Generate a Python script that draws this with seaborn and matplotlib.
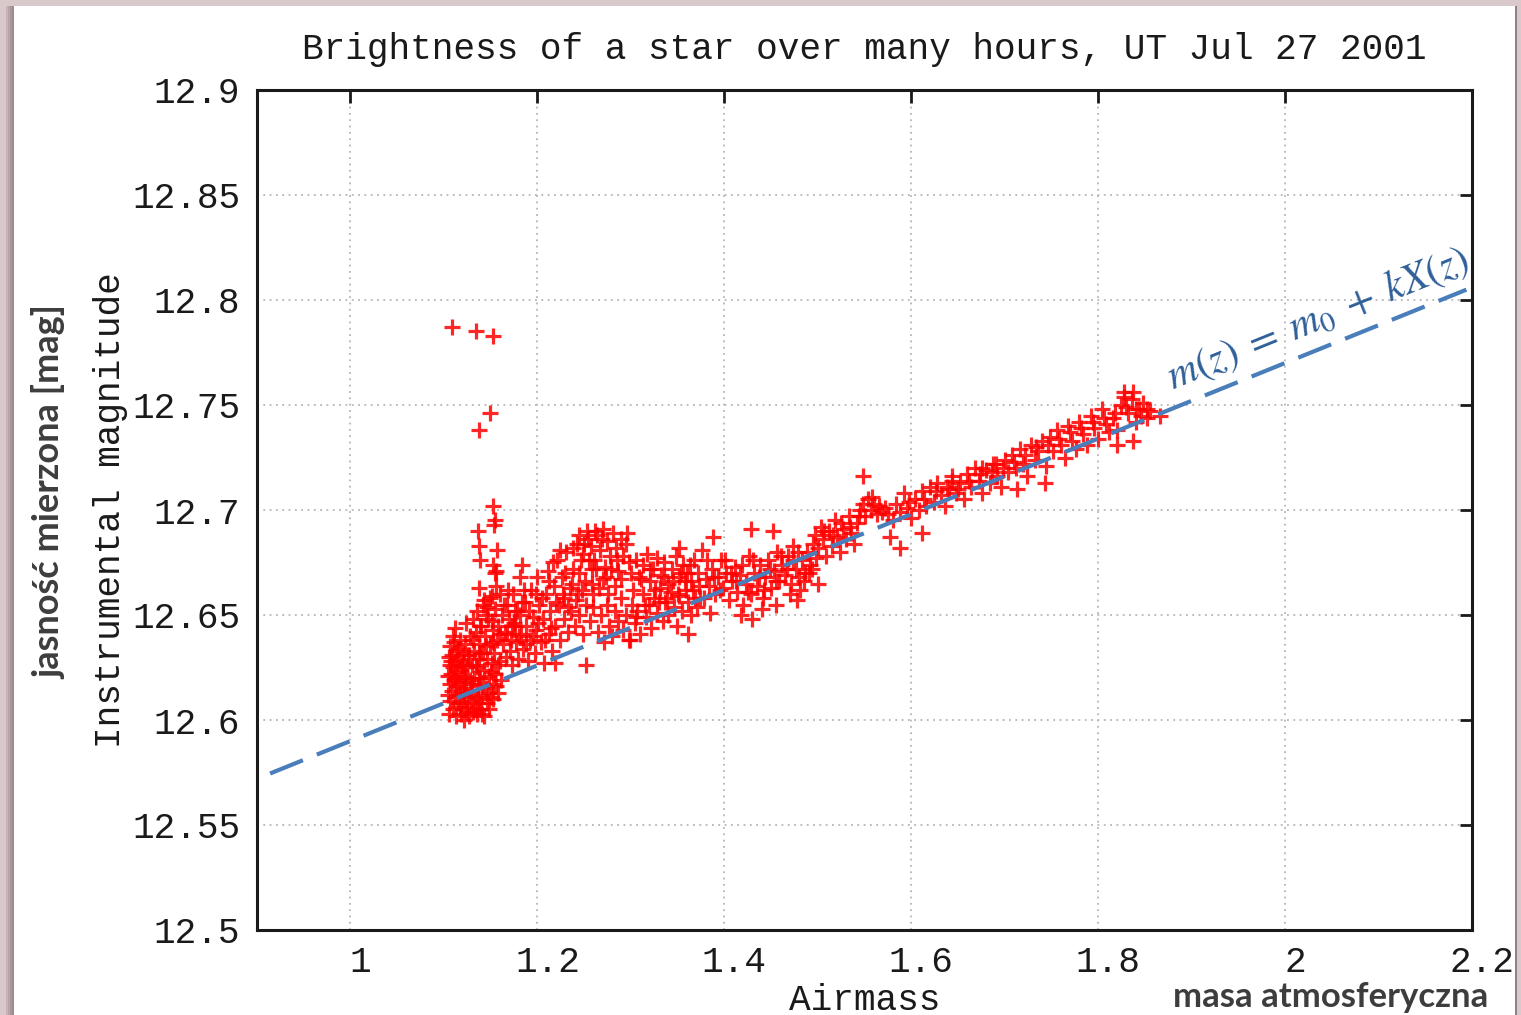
import matplotlib
matplotlib.use("Agg")
import matplotlib.pyplot as plt
import matplotlib.transforms as mtransforms
from matplotlib.patches import Rectangle
import pandas as pd
import seaborn as sns

# Measured instrumental magnitude vs. airmass
airmass = [
    # isolated high points
    1.109, 1.134, 1.152, 1.149, 1.137,
    # narrow vertical streak
    1.152, 1.155, 1.154, 1.136, 1.137, 1.157, 1.139, 1.152, 1.156, 1.155, 1.156, 1.151, 1.143, 1.137, 1.146,
    # start of the night, low airmass
    1.104, 1.104, 1.105, 1.106, 1.106, 1.107, 1.107, 1.108, 1.109, 1.109, 1.110, 1.110, 1.111, 1.111,
    1.112, 1.112, 1.113, 1.113, 1.114, 1.114, 1.115, 1.116, 1.116, 1.117, 1.117, 1.118, 1.118, 1.119,
    1.120, 1.120, 1.121, 1.121, 1.122, 1.122, 1.123, 1.124, 1.124, 1.125, 1.126, 1.126, 1.127, 1.128,
    1.128, 1.129, 1.130, 1.130, 1.131, 1.132, 1.132, 1.133, 1.134, 1.135, 1.135, 1.136, 1.137, 1.138,
    1.138, 1.139, 1.140, 1.141, 1.141, 1.142, 1.143, 1.144, 1.145, 1.146, 1.146, 1.147, 1.148, 1.149,
    1.150, 1.151, 1.152, 1.153, 1.154, 1.155, 1.157, 1.158, 1.160, 1.161,
    1.105, 1.108, 1.110, 1.112, 1.115, 1.117, 1.119, 1.121, 1.123, 1.125, 1.127, 1.129, 1.131, 1.133,
    1.134, 1.136, 1.137, 1.139, 1.140, 1.142, 1.143, 1.145, 1.147, 1.148, 1.150, 1.152, 1.153, 1.156,
    1.158, 1.112, 1.124,
    1.131, 1.135, 1.139, 1.142, 1.145, 1.149, 1.151, 1.155, 1.158, 1.160, 1.162, 1.165, 1.167, 1.170,
    1.172, 1.174, 1.176, 1.178,
    # rising band
    1.163, 1.166, 1.168, 1.171, 1.173, 1.175, 1.177, 1.179, 1.181, 1.183, 1.185, 1.187, 1.188, 1.190,
    1.192, 1.193, 1.195, 1.197, 1.199, 1.200, 1.202, 1.204, 1.206, 1.207, 1.209, 1.211, 1.212, 1.214,
    1.216, 1.218, 1.219, 1.221, 1.223, 1.224, 1.226, 1.228, 1.229, 1.231, 1.233, 1.235, 1.236, 1.238,
    1.240, 1.242, 1.243, 1.245, 1.247, 1.249, 1.251, 1.252, 1.254, 1.256, 1.258, 1.260, 1.262,
    1.181, 1.184, 1.186, 1.219, 1.252,
    1.160, 1.164, 1.169, 1.173, 1.176, 1.180, 1.184, 1.188, 1.191, 1.195, 1.198, 1.201, 1.205, 1.208,
    1.212, 1.215, 1.217, 1.220, 1.224, 1.227, 1.230, 1.233, 1.237, 1.241, 1.244, 1.248, 1.250, 1.255,
    1.259, 1.263, 1.266, 1.269, 1.273, 1.279, 1.285, 1.290, 1.296,
    # bump near airmass 1.25-1.30
    1.238, 1.244, 1.249, 1.253, 1.257, 1.261, 1.264, 1.267, 1.270, 1.272, 1.275, 1.278, 1.281, 1.284,
    1.286, 1.289, 1.292, 1.295, 1.298, 1.270, 1.258, 1.283, 1.276,
    # lower branch
    1.265, 1.268, 1.271, 1.274, 1.277, 1.280, 1.283, 1.286, 1.289, 1.292, 1.295, 1.298, 1.301, 1.304,
    1.307, 1.310, 1.313, 1.316, 1.319, 1.322, 1.325, 1.328, 1.331, 1.334, 1.337, 1.340, 1.343, 1.346,
    1.349, 1.352, 1.355, 1.358, 1.361, 1.364, 1.367, 1.371, 1.374, 1.299, 1.361, 1.385,
    # upper branch
    1.300, 1.305, 1.309, 1.313, 1.317, 1.320, 1.324, 1.328, 1.332, 1.336, 1.340, 1.344, 1.348, 1.352,
    1.356, 1.360, 1.364, 1.368, 1.372, 1.376, 1.380, 1.429, 1.452, 1.388, 1.352,
    1.302, 1.306, 1.311, 1.315, 1.321, 1.326, 1.330, 1.335, 1.339, 1.345, 1.350, 1.354, 1.359, 1.363,
    1.369, 1.373, 1.378, 1.382,
    # middle of the night
    1.384, 1.387, 1.390, 1.393, 1.396, 1.399, 1.402, 1.405, 1.408, 1.411, 1.414, 1.417, 1.420, 1.423,
    1.426, 1.429, 1.432, 1.435, 1.438, 1.441, 1.444, 1.447, 1.450, 1.453, 1.456, 1.459, 1.462, 1.465,
    1.468, 1.471, 1.474, 1.477, 1.480, 1.483, 1.486, 1.489, 1.492, 1.495, 1.498,
    1.418, 1.430, 1.440, 1.455, 1.470, 1.478, 1.481, 1.500,
    1.389, 1.395, 1.401, 1.407, 1.413, 1.419, 1.425, 1.431, 1.437, 1.443, 1.449, 1.455, 1.461, 1.467,
    1.473, 1.479, 1.485, 1.491, 1.497, 1.494,
    1.500, 1.503, 1.506, 1.509, 1.512, 1.515, 1.518, 1.521, 1.524, 1.527, 1.530, 1.533, 1.536, 1.539,
    1.542, 1.545, 1.548, 1.548, 1.551, 1.554, 1.557, 1.560, 1.563, 1.566, 1.569, 1.572,
    1.588, 1.577, 1.611,
    # setting star, high airmass
    1.580, 1.584, 1.588, 1.592, 1.596, 1.600, 1.604, 1.608, 1.612, 1.616, 1.620, 1.624, 1.628, 1.632,
    1.636, 1.640, 1.644, 1.648, 1.652, 1.656, 1.660, 1.664, 1.668, 1.672, 1.676, 1.680, 1.684, 1.688,
    1.692, 1.696, 1.700, 1.644, 1.676, 1.691, 1.713, 1.743,
    1.704, 1.708, 1.712, 1.716, 1.720, 1.724, 1.728, 1.732, 1.736, 1.740, 1.744, 1.748, 1.752, 1.756,
    1.760, 1.764, 1.768, 1.772, 1.776, 1.780, 1.784, 1.788, 1.792, 1.796, 1.800, 1.804, 1.808, 1.812,
    1.816, 1.820, 1.824, 1.828, 1.832, 1.836, 1.840, 1.844, 1.848, 1.852, 1.856,
    1.828, 1.837, 1.841, 1.852, 1.866, 1.820, 1.837,
    1.507, 1.516, 1.525, 1.535, 1.544, 1.558, 1.575, 1.598, 1.614, 1.626, 1.638, 1.650, 1.662, 1.674,
    1.686, 1.698, 1.710, 1.722, 1.734, 1.746, 1.758, 1.770, 1.782, 1.794, 1.806, 1.818, 1.830, 1.846,
]

inst_mag = [
    12.787, 12.785, 12.783, 12.746, 12.738,
    12.702, 12.695, 12.693, 12.690, 12.683, 12.681, 12.676, 12.674, 12.671, 12.670, 12.664, 12.659, 12.657, 12.663, 12.654,
    12.612, 12.621, 12.630, 12.617, 12.626, 12.635, 12.609, 12.622, 12.614, 12.631, 12.605, 12.625, 12.619, 12.637,
    12.611, 12.628, 12.602, 12.616, 12.633, 12.623, 12.608, 12.618, 12.629, 12.612, 12.638, 12.603, 12.624, 12.615,
    12.632, 12.608, 12.620, 12.627, 12.600, 12.613, 12.636, 12.618, 12.606, 12.625, 12.611, 12.631, 12.602, 12.619,
    12.640, 12.609, 12.626, 12.614, 12.604, 12.633, 12.620, 12.611, 12.642, 12.603, 12.625, 12.616, 12.636, 12.608,
    12.629, 12.620, 12.645, 12.612, 12.603, 12.632, 12.624, 12.640, 12.615, 12.608, 12.629, 12.648, 12.621, 12.636,
    12.611, 12.627, 12.643, 12.617, 12.632, 12.622, 12.638, 12.613, 12.628, 12.619,
    12.603, 12.628, 12.640, 12.620, 12.634, 12.606, 12.626, 12.612, 12.621, 12.604, 12.631, 12.617, 12.638, 12.605,
    12.626, 12.610, 12.620, 12.632, 12.605, 12.617, 12.602, 12.635, 12.613, 12.605, 12.623, 12.610, 12.637, 12.616,
    12.626, 12.644, 12.646,
    12.648, 12.652, 12.645, 12.655, 12.650, 12.658, 12.647, 12.653, 12.645, 12.660, 12.650, 12.642, 12.655, 12.648,
    12.638, 12.660, 12.645, 12.652,
    12.636, 12.630, 12.641, 12.633, 12.626, 12.646, 12.637, 12.629, 12.650, 12.641, 12.634, 12.656, 12.645, 12.628,
    12.638, 12.662, 12.649, 12.632, 12.643, 12.668, 12.655, 12.637, 12.648, 12.627, 12.660, 12.671, 12.641, 12.652,
    12.633, 12.664, 12.645, 12.676, 12.655, 12.638, 12.668, 12.648, 12.658, 12.680, 12.642, 12.663, 12.652, 12.672,
    12.645, 12.684, 12.660, 12.650, 12.676, 12.641, 12.666, 12.655, 12.686, 12.647, 12.672, 12.660, 12.690,
    12.668, 12.674, 12.662, 12.627, 12.626,
    12.641, 12.655, 12.662, 12.645, 12.652, 12.640, 12.656, 12.636, 12.652, 12.640, 12.660, 12.646, 12.658, 12.638,
    12.666, 12.644, 12.675, 12.656, 12.681, 12.660, 12.670, 12.654, 12.665, 12.657, 12.670, 12.662, 12.684, 12.676,
    12.654, 12.672, 12.663, 12.686, 12.668, 12.672, 12.676, 12.667, 12.689,
    12.682, 12.688, 12.679, 12.690, 12.683, 12.676, 12.688, 12.681, 12.691, 12.673, 12.685, 12.678, 12.689, 12.682,
    12.671, 12.686, 12.678, 12.684, 12.675, 12.667, 12.665, 12.664, 12.660,
    12.642, 12.650, 12.637, 12.655, 12.645, 12.640, 12.652, 12.647, 12.658, 12.643, 12.650, 12.638, 12.655, 12.646,
    12.652, 12.641, 12.660, 12.649, 12.655, 12.644, 12.658, 12.651, 12.663, 12.647, 12.656, 12.650, 12.661, 12.654,
    12.645, 12.659, 12.652, 12.666, 12.656, 12.650, 12.662, 12.654, 12.658, 12.638, 12.641, 12.651,
    12.670, 12.676, 12.668, 12.674, 12.679, 12.666, 12.672, 12.677, 12.669, 12.675, 12.665, 12.672, 12.678, 12.668,
    12.674, 12.670, 12.666, 12.676, 12.670, 12.681, 12.667, 12.691, 12.690, 12.687, 12.682,
    12.662, 12.649, 12.667, 12.655, 12.672, 12.662, 12.656, 12.668, 12.658, 12.666, 12.660, 12.670, 12.662, 12.674,
    12.658, 12.664, 12.658, 12.676,
    12.664, 12.672, 12.660, 12.668, 12.676, 12.663, 12.670, 12.657, 12.666, 12.673, 12.661, 12.669, 12.655, 12.665,
    12.678, 12.660, 12.670, 12.664, 12.674, 12.658, 12.668, 12.676, 12.663, 12.671, 12.680, 12.666, 12.674, 12.669,
    12.678, 12.665, 12.683, 12.672, 12.668, 12.676, 12.670, 12.680, 12.674, 12.684, 12.677,
    12.650, 12.648, 12.653, 12.655, 12.660, 12.657, 12.662, 12.665,
    12.668, 12.662, 12.676, 12.670, 12.666, 12.674, 12.661, 12.676, 12.668, 12.662, 12.672, 12.666, 12.678, 12.672,
    12.676, 12.680, 12.666, 12.670, 12.688, 12.672,
    12.682, 12.692, 12.686, 12.678, 12.690, 12.683, 12.695, 12.687, 12.680, 12.691, 12.686, 12.697, 12.689, 12.684,
    12.694, 12.700, 12.703, 12.716, 12.697, 12.705, 12.700, 12.703, 12.698, 12.702, 12.699, 12.701,
    12.682, 12.687, 12.689,
    12.695, 12.703, 12.699, 12.708, 12.701, 12.696, 12.705, 12.700, 12.709, 12.702, 12.711, 12.704, 12.713, 12.707,
    12.702, 12.710, 12.716, 12.708, 12.713, 12.705, 12.717, 12.711, 12.720, 12.714, 12.708, 12.719, 12.713, 12.722,
    12.716, 12.711, 12.724, 12.714, 12.720, 12.722, 12.710, 12.713,
    12.718, 12.726, 12.720, 12.729, 12.722, 12.716, 12.731, 12.724, 12.728, 12.733, 12.721, 12.735, 12.728, 12.738,
    12.731, 12.725, 12.740, 12.733, 12.729, 12.742, 12.736, 12.731, 12.745, 12.739, 12.734, 12.748, 12.741, 12.737,
    12.744, 12.738, 12.750, 12.754, 12.746, 12.753, 12.742, 12.748, 12.751, 12.744, 12.747,
    12.756, 12.756, 12.748, 12.748, 12.745, 12.731, 12.733,
    12.690, 12.688, 12.694, 12.692, 12.697, 12.706, 12.698, 12.704, 12.705, 12.709, 12.711, 12.710, 12.714, 12.717,
    12.718, 12.720, 12.723, 12.726, 12.730, 12.731, 12.734, 12.737, 12.739, 12.742, 12.744, 12.746, 12.749, 12.745,
]

# Extinction fit m(z) = m0 + k X(z)
m0 = 12.410
k_ext = 0.180
fit_airmass = [0.914, 2.194]

x_ticks = [1.0, 1.2, 1.4, 1.6, 1.8, 2.0, 2.2]
x_tick_labels = ["1", "1.2", "1.4", "1.6", "1.8", "2", "2.2"]
y_ticks = [12.5, 12.55, 12.6, 12.65, 12.7, 12.75, 12.8, 12.85, 12.9]
y_tick_labels = ["12.5", "12.55", "12.6", "12.65", "12.7", "12.75", "12.8", "12.85", "12.9"]

title_text = "Brightness of a star over many hours, UT Jul 27 2001"
x_label = "Airmass"
y_label = "Instrumental magnitude"
x_label_pl = "masa atmosferyczna"
y_label_pl = "jasność mierzona [mag]"
fit_label = r"$m(z)\;=\;m_0\;+\;kX(z)$"

sns.set_theme(style="white")
plt.rcParams["font.family"] = ["Liberation Mono", "DejaVu Sans Mono"]
plt.rcParams["mathtext.fontset"] = "stix"

W, H, DPI = 1521, 1015, 100
fig = plt.figure(figsize=(W / DPI, H / DPI), dpi=DPI, facecolor="#cbb9bc")

# white slide panel with a soft shadowed frame
fig.patches.append(Rectangle((0, 0), 1, 1, transform=fig.transFigure,
                             facecolor="#d9c9cb", edgecolor="none", zorder=-10))
for i, c in enumerate(["#c9b5b8", "#b8a4a7", "#a8979a", "#9c8c8e"]):
    fig.patches.append(Rectangle(((6 + 2 * i) / W, 0), 2 / W, 1 - 6 / H,
                                 transform=fig.transFigure, facecolor=c,
                                 edgecolor="none", zorder=-9))
fig.patches.append(Rectangle((14 / W, 0), (1515 - 14) / W, 1 - 6 / H,
                             transform=fig.transFigure, facecolor="white",
                             edgecolor="none", zorder=-8))
fig.patches.append(Rectangle((1515 / W, 0), 2 / W, 1 - 6 / H,
                             transform=fig.transFigure, facecolor="#8f8284",
                             edgecolor="none", zorder=-8))

ax = fig.add_axes([257 / W, 1 - 930 / H, (1472 - 257) / W, (930 - 90) / H])
ax.set_facecolor("white")

df = pd.DataFrame({"airmass": airmass, "mag": inst_mag})
sns.scatterplot(data=df, x="airmass", y="mag", marker="+", s=135,
                linewidth=2.3, color="#ff0000", alpha=0.85, ax=ax, zorder=3)

fit_df = pd.DataFrame({"airmass": fit_airmass,
                       "mag": [m0 + k_ext * x for x in fit_airmass]})
sns.lineplot(data=fit_df, x="airmass", y="mag", color="#4a7ebb", linewidth=3.0,
             dashes=False, ax=ax, zorder=4)
ax.lines[-1].set_dashes((8.5, 3.6))

ax.set_xlim(0.9, 2.2)
ax.set_ylim(12.5, 12.9)
ax.set_xticks(x_ticks)
ax.set_xticklabels(x_tick_labels)
ax.set_yticks(y_ticks)
ax.set_yticklabels(y_tick_labels)

ax.grid(True, color="#b5b5b5", linestyle=(0, (1.0, 2.5)), linewidth=1.3)
for s in ax.spines.values():
    s.set_color("#1a1a1a")
    s.set_linewidth(2.2)
ax.tick_params(direction="in", length=9, width=2.0, color="#1a1a1a",
               top=True, right=True, labelsize=26, labelcolor="#1a1a1a")
ax.tick_params(axis="y", pad=12)
ax.tick_params(axis="x", pad=11)
offset = mtransforms.ScaledTranslation(10 / DPI, 0, fig.dpi_scale_trans)
for lbl in ax.get_xticklabels():
    lbl.set_transform(lbl.get_transform() + offset)

ax.set_title(title_text, fontsize=26, color="#1a1a1a", pad=22)
ax.set_xlabel(x_label, fontsize=26, color="#1a1a1a", labelpad=2)
ax.set_ylabel(y_label, fontsize=26, color="#1a1a1a", labelpad=3)

fig.text(49 / W, 1 - 492 / H, y_label_pl, rotation=90, ha="center", va="center",
         fontsize=26, fontweight="bold", color="#3d3d3d", family=["Lato", "DejaVu Sans"])
fig.text(1331 / W, 1 - 997 / H, x_label_pl, ha="center", va="center",
         fontsize=25, fontweight="bold", color="#3d3d3d", family=["Lato", "DejaVu Sans"])

ax.text(2.035, 12.791, fit_label, rotation=22, rotation_mode="anchor",
        ha="center", va="center", fontsize=30, color="#2f5f98",
        zorder=5)

fig.savefig("out.png", dpi=DPI, facecolor=fig.get_facecolor())
